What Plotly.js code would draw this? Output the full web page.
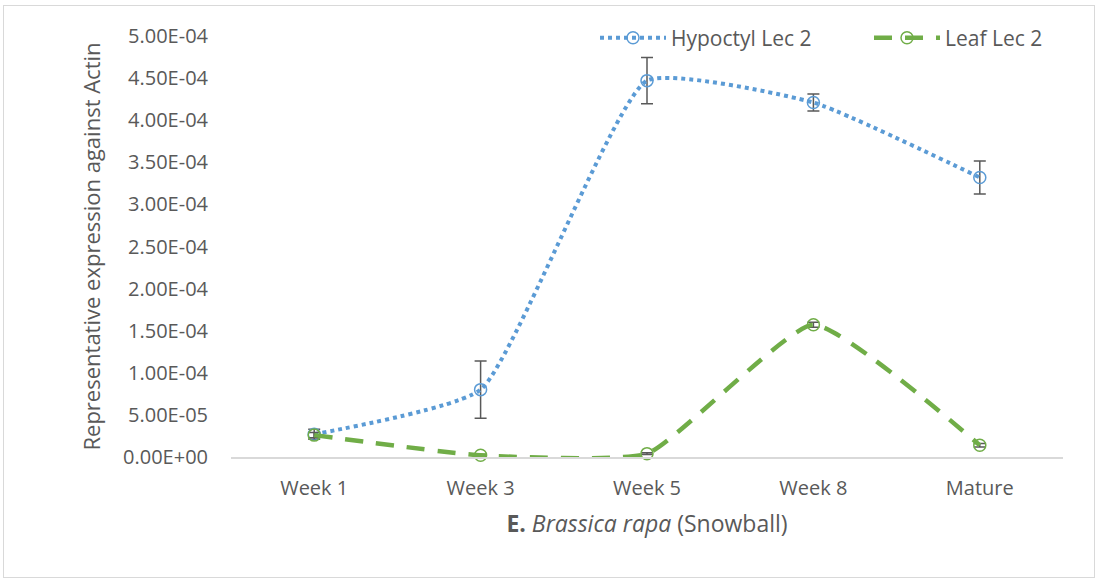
<!DOCTYPE html>
<html>
<head>
<meta charset="utf-8">
<script src="https://cdn.plot.ly/plotly-3.0.1.min.js"></script>
<style>
  html, body { margin: 0; padding: 0; background: #fff; }
  #wrap { position: relative; width: 1098px; height: 580px; }
  #chart { width: 1098px; height: 580px; }
  #frame { position: absolute; left: 3px; top: 5px; width: 1090px; height: 571px; border: 1px solid #d9d9d9; pointer-events: none; }
</style>
</head>
<body>
<div id="wrap">
  <div id="chart"></div>
  <div id="frame"></div>
</div>
<script>
const categories = ["Week 1", "Week 3", "Week 5", "Week 8", "Mature"];
const hypocotylValues = [2.7e-5, 8.0e-5, 4.47e-4, 4.21e-4, 3.32e-4];
const hypocotylErrors = [6e-6, 3.4e-5, 2.75e-5, 1.0e-5, 1.95e-5];
const leafValues = [2.6e-5, 2.0e-6, 4.0e-6, 1.57e-4, 1.4e-5];
const leafErrors = [3e-6, 1e-6, 1e-6, 3e-6, 2e-6];
const yTickVals = [0, 5e-5, 1e-4, 1.5e-4, 2e-4, 2.5e-4, 3e-4, 3.5e-4, 4e-4, 4.5e-4, 5e-4];
const yTickText = ["0.00E+00", "5.00E-05", "1.00E-04", "1.50E-04", "2.00E-04", "2.50E-04", "3.00E-04", "3.50E-04", "4.00E-04", "4.50E-04", "5.00E-04"];

const textColor = "#595959";
const font = "Open Sans, Segoe UI, sans-serif";

const traces = [
  {
    x: categories, y: hypocotylValues, name: "Hypoctyl Lec 2",
    type: "scatter", mode: "lines+markers", cliponaxis: false,
    line: { color: "#5b9bd5", width: 4, dash: "dot", shape: "spline", smoothing: 0.45 },
    marker: { symbol: "circle-open", size: 12, color: "#5b9bd5", line: { width: 1.5, color: "#5b9bd5" } },
    error_y: { type: "data", array: hypocotylErrors, visible: true, color: "#595959", thickness: 1.5, width: 6 }
  },
  {
    x: categories, y: leafValues, name: "Leaf Lec 2",
    type: "scatter", mode: "lines+markers", cliponaxis: false,
    line: { color: "#70ad47", width: 4.5, dash: "18px,13px", shape: "spline", smoothing: 0.45 },
    marker: { symbol: "circle-open", size: 12, color: "#70ad47", line: { width: 1.5, color: "#70ad47" } },
    error_y: { type: "data", array: leafErrors, visible: true, color: "#595959", thickness: 1.5, width: 6 }
  }
];

const layout = {
  width: 1098, height: 580,
  margin: { l: 231, r: 35, t: 36, b: 123, autoexpand: false },
  paper_bgcolor: "#ffffff", plot_bgcolor: "#ffffff",
  font: { family: font, color: textColor, size: 20 },
  showlegend: true,
  legend: {
    orientation: "h", x: 0.4375, xanchor: "left", y: 0.995, yanchor: "middle",
    font: { family: font, size: 21, color: textColor },
    bgcolor: "rgba(0,0,0,0)", itemwidth: 66, traceorder: "normal",
    entrywidth: 193, entrywidthmode: "pixels"
  },
  xaxis: {
    type: "category", range: [-0.5, 4.5],
    showgrid: false, zeroline: false,
    showline: true, linecolor: "#d9d9d9", linewidth: 1.5,
    ticks: "", tickfont: { family: font, size: 20, color: textColor },
    ticklabelstandoff: 12,
    title: { text: "<b>E.</b> <i>Brassica rapa</i> (Snowball)", font: { family: font, size: 23, color: textColor }, standoff: 16 }
  },
  yaxis: {
    range: [0, 5e-4],
    tickvals: yTickVals, ticktext: yTickText,
    showgrid: false, zeroline: false, showline: false,
    ticks: "", tickfont: { family: font, size: 20, color: textColor },
    ticklabelstandoff: 22,
    title: { text: "Representative expression against Actin", font: { family: font, size: 22, color: textColor }, standoff: 16 }
  }
};

Plotly.newPlot("chart", traces, layout, { displayModeBar: false, staticPlot: true });
</script>
</body>
</html>
